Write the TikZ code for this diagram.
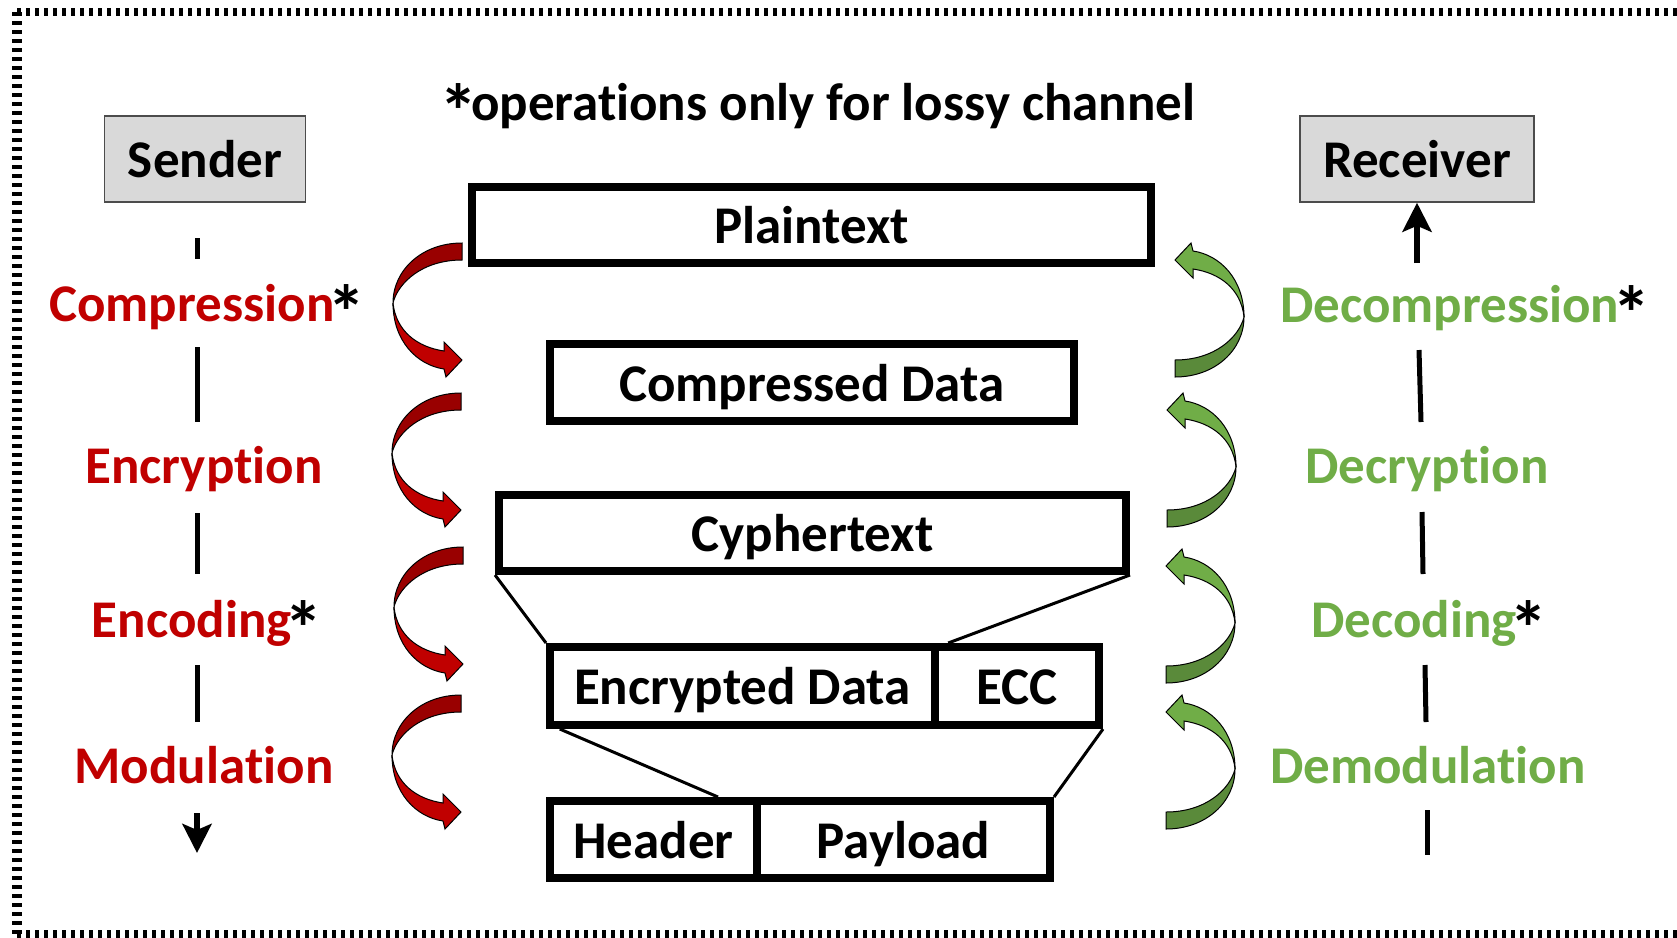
\documentclass[tikz,border=0pt]{standalone}
\usepackage{fontspec}
\setmainfont{Carlito}[Ligatures=NoCommon]
\usetikzlibrary{arrows.meta,calc}
\definecolor{txtred}{HTML}{C00000}
\definecolor{txtgreen}{HTML}{70AD47}
\definecolor{arrdark}{HTML}{990000}
\definecolor{arrlight}{HTML}{C00000}
\definecolor{grdark}{HTML}{5A8A3A}
\definecolor{grlight}{HTML}{70AD47}
\definecolor{boxgray}{HTML}{D9D9D9}
\newcommand{\bigast}{\kern-7pt\raisebox{-18pt}{\scalebox{1.45}{*}}\kern-7pt}
\newcommand{\curvarr}[4]{%
\begin{scope}[shift={#1}, rotate=#2, line width=1pt, draw=black]
\filldraw[fill=#3] (0,0) .. controls (-40,0) and (-69,27) .. (-69,60) .. controls (-64,40) and (-40,17) .. (0,17) -- cycle;
\filldraw[fill=#4] (-69,60) .. controls (-69,98) and (-45,122) .. (-18,126) -- (-16,134) -- (0,117) -- (-18,99) -- (-18,108) .. controls (-45,104) and (-66,88) .. (-69,60) -- cycle;
\end{scope}}
\begin{document}
\begin{tikzpicture}[x=1pt,y=-1pt,
  every node/.style={font=\fontsize{53}{64}\selectfont\bfseries, inner sep=0pt},
  databox/.style={draw, line width=8pt, text height=37pt, text depth=0pt},
  rolebox/.style={draw=black!70, fill=boxgray, line width=1.5pt, text height=37pt, text depth=0pt, minimum height=86pt},
  lbl/.style={anchor=base},
  seg/.style={line width=5pt},
  flow/.style={line width=6pt, -{Stealth[length=29pt,width=29pt,inset=6pt]}},
  link/.style={line width=3pt},
  border/.style={dash pattern=on 4pt off 5pt}]
\useasboundingbox (0,0) rectangle (1677,937);
% frame
\draw[border, line width=8pt] (1677,12) -- (17,12);
\draw[border, line width=10pt] (17,12) -- (17,934);
\draw[border, line width=8pt] (17,934) -- (1677,934);
% title
\node[lbl] (title) at (821,120) {\bigast operations only for lossy channel};
% roles
\node[rolebox, minimum width=201pt] (sender) at (205,159) {Sender};
\node[rolebox, minimum width=234pt] (receiver) at (1417,159) {Receiver};
% data boxes
\node[databox, minimum width=679pt, minimum height=76pt] (plain) at (811.5,225) {Plaintext};
\node[databox, minimum width=524pt, minimum height=77pt] (compd) at (812,382.5) {Compressed Data};
\node[databox, minimum width=627pt, minimum height=76pt] (cyph) at (812.5,533) {Cyphertext};
\node[databox, minimum width=385pt, minimum height=78pt] (enc) at (742.5,686) {Encrypted Data};
\node[databox, minimum width=164pt, minimum height=78pt] (ecc) at (1017,686) {ECC};
\node[databox, minimum width=207pt, minimum height=77pt] (hdr) at (653.5,839.5) {Header};
\node[databox, minimum width=293pt, minimum height=77pt] (pay) at (903.5,839.5) {Payload};
% links
\draw[link] (cyph.south west) -- (enc.north west);
\draw[link] (cyph.south east) -- ($(ecc.north west)!0.1!(ecc.north east)$);
\draw[link] ($(enc.south west)!0.035!(enc.south east)$) -- ($(hdr.north west)!0.8!(hdr.north east)$);
\draw[link] (ecc.south east) -- (pay.north east);
% sender labels
\node[lbl, text=txtred] (comp) at (204,321) {Compression{\color{black}\bigast}};
\node[lbl, text=txtred] (encr) at (204,483) {Encryption};
\node[lbl, text=txtred] (enco) at (204,637) {Encoding{\color{black}\bigast}};
\node[lbl, text=txtred] (modu) at (204,783) {Modulation};
% receiver labels
\node[anchor=base west, text=txtgreen] (decomp) at (1280,322) {Decompression{\color{black}\bigast}};
\node[lbl, text=txtgreen] (decr) at (1427,483) {Decryption};
\node[lbl, text=txtgreen] (deco) at (1426,637) {Decoding{\color{black}\bigast}};
\node[lbl, text=txtgreen] (demod) at (1428,783) {Demodulation};
% sender flow
\coordinate (l1a) at (197,238); \coordinate (l1b) at (197,259);
\coordinate (l2a) at (197,347); \coordinate (l2b) at (197,422);
\coordinate (l3a) at (197,513); \coordinate (l3b) at (197,574);
\coordinate (l4a) at (197,665); \coordinate (l4b) at (197,722);
\coordinate (l5a) at (197,813); \coordinate (l5b) at (197,853);
\draw[seg] (l1a) -- (l1b);
\draw[seg] (l2a) -- (l2b);
\draw[seg] (l3a) -- (l3b);
\draw[seg] (l4a) -- (l4b);
\draw[flow] (l5a) -- (l5b);
% receiver flow
\coordinate (r0a) at (1417,263);
\coordinate (r1a) at (1419,350); \coordinate (r1b) at (1421,422);
\coordinate (r2a) at (1422,512); \coordinate (r2b) at (1423,574);
\coordinate (r3a) at (1425,665); \coordinate (r3b) at (1426,722);
\coordinate (r4a) at (1427,810); \coordinate (r4b) at (1427,855);
\draw[flow] (r0a) -- (receiver.south);
\draw[seg] (r1a) -- (r1b);
\draw[seg] (r2a) -- (r2b);
\draw[seg] (r3a) -- (r3b);
\draw[seg] (r4a) -- (r4b);
% curved arrows
\curvarr{(462,243)}{0}{arrdark}{arrlight}
\curvarr{(461,393)}{0}{arrdark}{arrlight}
\curvarr{(463,547)}{0}{arrdark}{arrlight}
\curvarr{(461,695)}{0}{arrdark}{arrlight}
\curvarr{(1175,377)}{180}{grdark}{grlight}
\curvarr{(1167,527)}{180}{grdark}{grlight}
\curvarr{(1166,683)}{180}{grdark}{grlight}
\curvarr{(1166,829)}{180}{grdark}{grlight}
\end{tikzpicture}
\end{document}
